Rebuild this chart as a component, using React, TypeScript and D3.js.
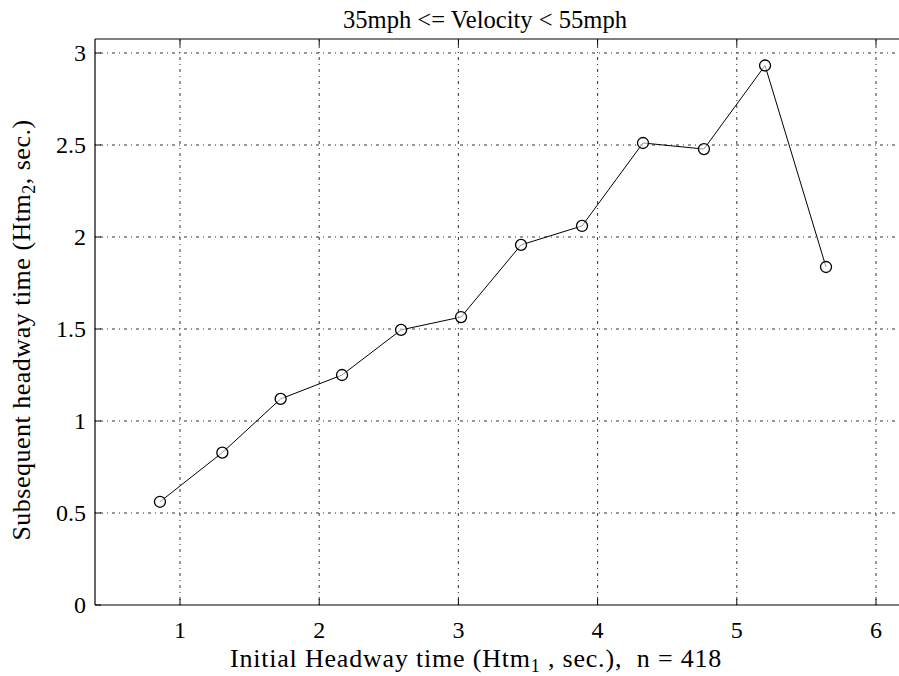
import React from "react";
import * as d3 from "d3";

const xValues = [0.856, 1.304, 1.723, 2.164, 2.588, 3.019, 3.45, 3.888, 4.326, 4.764, 5.203, 5.641];
const yValues = [0.561, 0.828, 1.12, 1.25, 1.495, 1.565, 1.957, 2.06, 2.511, 2.478, 2.932, 1.837];
const xTicks = [1, 2, 3, 4, 5, 6];
const yTicks = [0, 0.5, 1, 1.5, 2, 2.5, 3];
const titleText = "35mph <= Velocity < 55mph";

const W = 899;
const H = 676;
const left = 95;
const bottom = 605;
const top = 39;

export default function App() {
  const x = d3.scaleLinear().domain([1, 6]).range([180, 876]);
  const y = d3.scaleLinear().domain([0, 3]).range([605, 53]);
  const right = W + 20;
  const line = d3
    .line<number>()
    .x((_, i) => x(xValues[i]))
    .y((d) => y(d));
  const fs = { fontFamily: "Liberation Serif, Times New Roman, Tinos, serif" };
  return (
    <svg
      width={W}
      height={H}
      style={{ position: "absolute", left: 0, top: 0, background: "#fff" }}
    >
      <rect x={0} y={0} width={W} height={H} fill="#fff" />
      {/* grid */}
      {xTicks.map((t) => (
        <line key={"gx" + t} x1={x(t)} x2={x(t)} y1={bottom} y2={top} stroke="#333" strokeWidth={1} strokeDasharray="1,4,3,4" />
      ))}
      {yTicks.filter((t) => t > 0).map((t) => (
        <line key={"gy" + t} x1={left} x2={right} y1={y(t)} y2={y(t)} stroke="#333" strokeWidth={1} strokeDasharray="1,4,3,4" />
      ))}
      {/* axes box */}
      <line x1={left} x2={right} y1={bottom} y2={bottom} stroke="#000" strokeWidth={1.2} />
      <line x1={left} x2={right} y1={top} y2={top} stroke="#000" strokeWidth={1.2} />
      <line x1={left} x2={left} y1={top} y2={bottom} stroke="#000" strokeWidth={1.2} />
      {/* ticks */}
      {xTicks.map((t) => (
        <g key={"tx" + t}>
          <line x1={x(t)} x2={x(t)} y1={bottom} y2={bottom - 6} stroke="#000" />
          <line x1={x(t)} x2={x(t)} y1={top} y2={top + 6} stroke="#000" />
          <text x={x(t)} y={638} textAnchor="middle" fontSize={24} style={fs}>
            {t}
          </text>
        </g>
      ))}
      {yTicks.map((t) => (
        <g key={"ty" + t}>
          <line x1={left} x2={left + 6} y1={y(t)} y2={y(t)} stroke="#000" />
          <text x={86} y={y(t) + 8} textAnchor="end" fontSize={24} style={fs}>
            {t}
          </text>
        </g>
      ))}
      {/* data line */}
      <path d={line(yValues) || ""} fill="none" stroke="#000" strokeWidth={1} />
      {yValues.map((v, i) => (
        <circle key={"m" + i} cx={x(xValues[i])} cy={y(v)} r={5.5} fill="#fff" fillOpacity={0.6} stroke="#000" strokeWidth={1.3} />
      ))}
      {/* title */}
      <text x={485} y={28} textAnchor="middle" fontSize={25} textLength={284} lengthAdjust="spacingAndGlyphs" style={fs}>
        {titleText}
      </text>
      {/* x label */}
      <text x={476} y={667} textAnchor="middle" fontSize={26} letterSpacing={0.8} style={fs}>
        Initial Headway time (Htm
        <tspan fontSize={18} dy={5}>1</tspan>
        <tspan dy={-5}>{" , sec.),\u00a0\u00a0n = 418"}</tspan>
      </text>
      {/* y label */}
      <text transform={`translate(30,${330}) rotate(-90)`} textAnchor="middle" fontSize={26} letterSpacing={0.5} style={fs}>
        Subsequent headway time (Htm
        <tspan fontSize={18} dy={5}>2</tspan>
        <tspan dy={-5}>, sec.)</tspan>
      </text>
    </svg>
  );
}
